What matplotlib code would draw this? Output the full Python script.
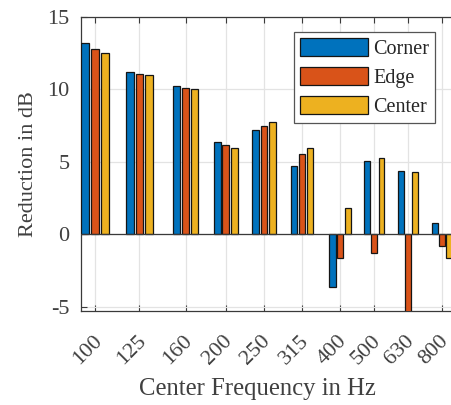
import numpy as np
import matplotlib
matplotlib.use("Agg")
import matplotlib.pyplot as plt
import matplotlib.transforms as mtransforms
from matplotlib.ticker import NullLocator

matplotlib.rcParams['font.family'] = ['Liberation Serif', 'DejaVu Serif']
matplotlib.rcParams['axes.unicode_minus'] = False

# ---------------------------------------------------------------
# datos
# ---------------------------------------------------------------
freqs  = [100, 125, 160, 200, 250, 315, 400, 500, 630, 800]
etiq   = ["100", "125", "160", "200", "250", "315", "400", "500", "630", "800"]
corner = [13.17, 11.19, 10.20, 6.37, 7.21, 4.71, -3.61, 5.06, 4.37, 0.76]
edge   = [12.80, 11.06, 10.07, 6.16, 7.47, 5.56, -1.66, -1.31, -6.20, -0.85]
center = [12.52, 10.96, 10.00, 5.95, 7.74, 5.93, 1.79, 5.26, 4.32, -1.66]

COLORES = {"Corner": "#0072BD", "Edge": "#D95319", "Center": "#EDB120"}
GRIS = "#3a3a3a"

# eje x: ln(f) en escala logarítmica (como el original)
x = np.log(np.array(freqs, dtype=float))
paso  = 0.0495
ancho = 0.0396

fig = plt.figure(figsize=(4.51, 4.05), dpi=100)
ax = fig.add_axes([0.1785, 0.232, 0.837, 0.727])
ax.set_xscale("log")

for k, (nom, vals) in enumerate([("Corner", corner), ("Edge", edge),
                                 ("Center", center)]):
    ax.bar(x + (k - 1) * paso, vals, ancho, color=COLORES[nom],
           edgecolor="#151515", lw=0.9, label=nom, zorder=3)

ax.axhline(0, color=GRIS, lw=0.9, zorder=4)

ax.set_xlim(4.532, 6.801)
ax.set_ylim(-5.3, 15)
ax.set_xticks(x)
ax.set_xticklabels(etiq, rotation=45, ha="right", va="top",
                   rotation_mode="anchor")
ax.xaxis.set_minor_locator(NullLocator())
ax.set_yticks([-5, 0, 5, 10, 15])

ax.tick_params(axis="both", direction="in", length=4, width=0.8,
               color=GRIS, labelcolor="#404040", labelsize=16,
               top=True, right=False)
ax.tick_params(axis="x", pad=15)
ax.tick_params(axis="y", pad=8)

# desplazar un poco las etiquetas giradas hacia la izquierda
despl = mtransforms.ScaledTranslation(-3 / 100, 0, fig.dpi_scale_trans)
for lab in ax.get_xticklabels():
    lab.set_transform(lab.get_transform() + despl)

ax.grid(True, color="#e3e3e3", lw=0.9, zorder=0)
ax.set_axisbelow(True)
for lado in ["left", "bottom", "top"]:
    ax.spines[lado].set_color(GRIS)
    ax.spines[lado].set_linewidth(0.9)
ax.spines["right"].set_visible(False)

ax.set_xlabel("Center Frequency in Hz", fontsize=17.8, color="#404040")
ax.xaxis.set_label_coords(0.4675, -0.228, transform=ax.transAxes)
ax.xaxis.label.set_va("top")
ax.set_ylabel("Reduction in dB", fontsize=16, color="#404040", labelpad=6.5)

leg = ax.legend(loc="upper left", bbox_to_anchor=(0.565, 0.948),
                fontsize=14.5, fancybox=False, framealpha=1,
                edgecolor="#555555", handlelength=3.4, handleheight=1.0,
                labelspacing=0.4, handletextpad=0.25, borderpad=0.3,
                borderaxespad=0)
leg.get_frame().set_linewidth(0.9)
for t in leg.get_texts():
    t.set_color("#262626")

fig.savefig("out.png", dpi=100)
